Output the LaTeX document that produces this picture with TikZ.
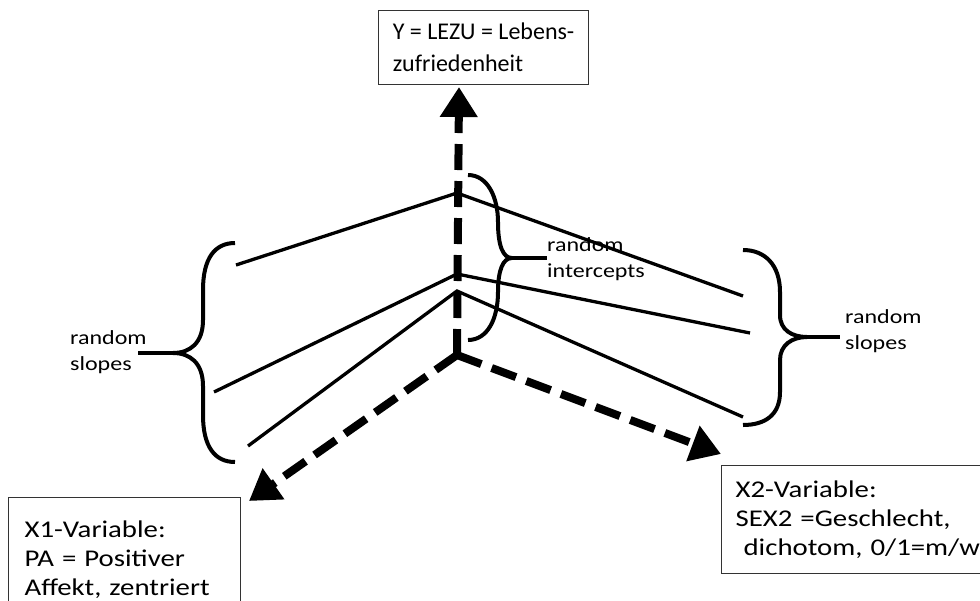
\documentclass[tikz,border=0pt]{standalone}
\usepackage{fontspec}
\setmainfont{Carlito}[FakeStretch=1.2]
\newfontfamily\plainfont{Carlito}
\usetikzlibrary{arrows.meta, positioning}
\tikzstyle{varbox} = [draw=black!80, line width=1.2pt, anchor=north west, align=left, inner ysep=12pt, font=\fontsize{24}{29}\selectfont]
\tikzstyle{axis} = [line width=8pt, dash pattern=on 26pt off 11pt, -{Triangle[length=30pt, width=36pt]}]
\tikzstyle{line} = [line width=3.3pt]
\tikzstyle{curly} = [line width=4pt]
\tikzstyle{lbl} = [anchor=north west, align=left, inner sep=0pt, font=\fontsize{20}{26}\selectfont]

\begin{document}
\begin{tikzpicture}[x=1pt, y=-1pt]
  \clip (0,0) rectangle (980,600);

  % boxes
  \node[varbox, font=\plainfont\fontsize{24}{32}\selectfont, minimum width=210pt, minimum height=74pt] (lezu) at (378,10) {Y = LEZU = Lebens-\\zufriedenheit};
  \node[varbox, text width=200pt, inner xsep=16pt, minimum height=125pt] (pa) at (8,497) {X1-Variable:\\PA = Positiver\\Affekt, zentriert};
  \node[varbox, text width=260pt, inner xsep=14pt, minimum height=108pt] (sex) at (721,465) {X2-Variable:\\SEX2 =Geschlecht,\\~dichotom, 0/1=m/w};

  % axes
  \coordinate (o) at (457,355);
  \coordinate (ytip) at (459,87);
  \coordinate (x1tip) at (249,501);
  \coordinate (x2tip) at (721,454);
  \draw[axis] (o) -- (ytip);
  \draw[axis] (o) -- (x1tip);
  \draw[axis] (o) -- (x2tip);

  % regression lines
  \coordinate (p1) at (457,193);
  \coordinate (p2) at (457,274);
  \coordinate (p3) at (457,291);
  \coordinate (a1) at (236,265);
  \coordinate (a2) at (214,392);
  \coordinate (a3) at (248,446);
  \coordinate (b1) at (743,296);
  \coordinate (b2) at (750,333);
  \coordinate (b3) at (743,417);
  \draw[line] (a1) -- (p1) -- (b1);
  \draw[line] (a2) -- (p2) -- (b2);
  \draw[line] (a3) -- (p3) -- (b3);

  % braces
  \coordinate (tailL) at (138,353);
  \coordinate (tailM) at (547,258);
  \coordinate (tailR) at (840,337);
  \draw[curly] (235,243) .. controls (215,243) and (203,258) .. (203,290) -- (203,320)
    .. controls (203,343) and (190,353) .. (173,353) .. controls (190,353) and (203,363) .. (203,386)
    -- (203,415) .. controls (203,447) and (215,462) .. (235,462);
  \draw[curly] (173,353) -- (tailL);
  \draw[curly] (468,175) .. controls (488,175) and (498,198) .. (498,222)
    .. controls (498,246) and (503,258) .. (512,258) .. controls (503,258) and (498,270) .. (498,292)
    .. controls (498,318) and (488,340) .. (468,340);
  \draw[curly] (512,258) -- (tailM);
  \draw[curly] (743,250) .. controls (765,250) and (780,265) .. (780,292) -- (780,315)
    .. controls (780,330) and (792,337) .. (807,337) .. controls (792,337) and (780,345) .. (780,360)
    -- (780,392) .. controls (780,415) and (765,425) .. (743,425);
  \draw[curly] (807,337) -- (tailR);

  % labels
  \node[lbl] (slopesL) at (70,330) {random\\slopes};
  \node[lbl] (icepts) at (547,237) {random\\intercepts};
  \node[lbl] (slopesR) at (845,309) {random\\slopes};
\end{tikzpicture}
\end{document}
